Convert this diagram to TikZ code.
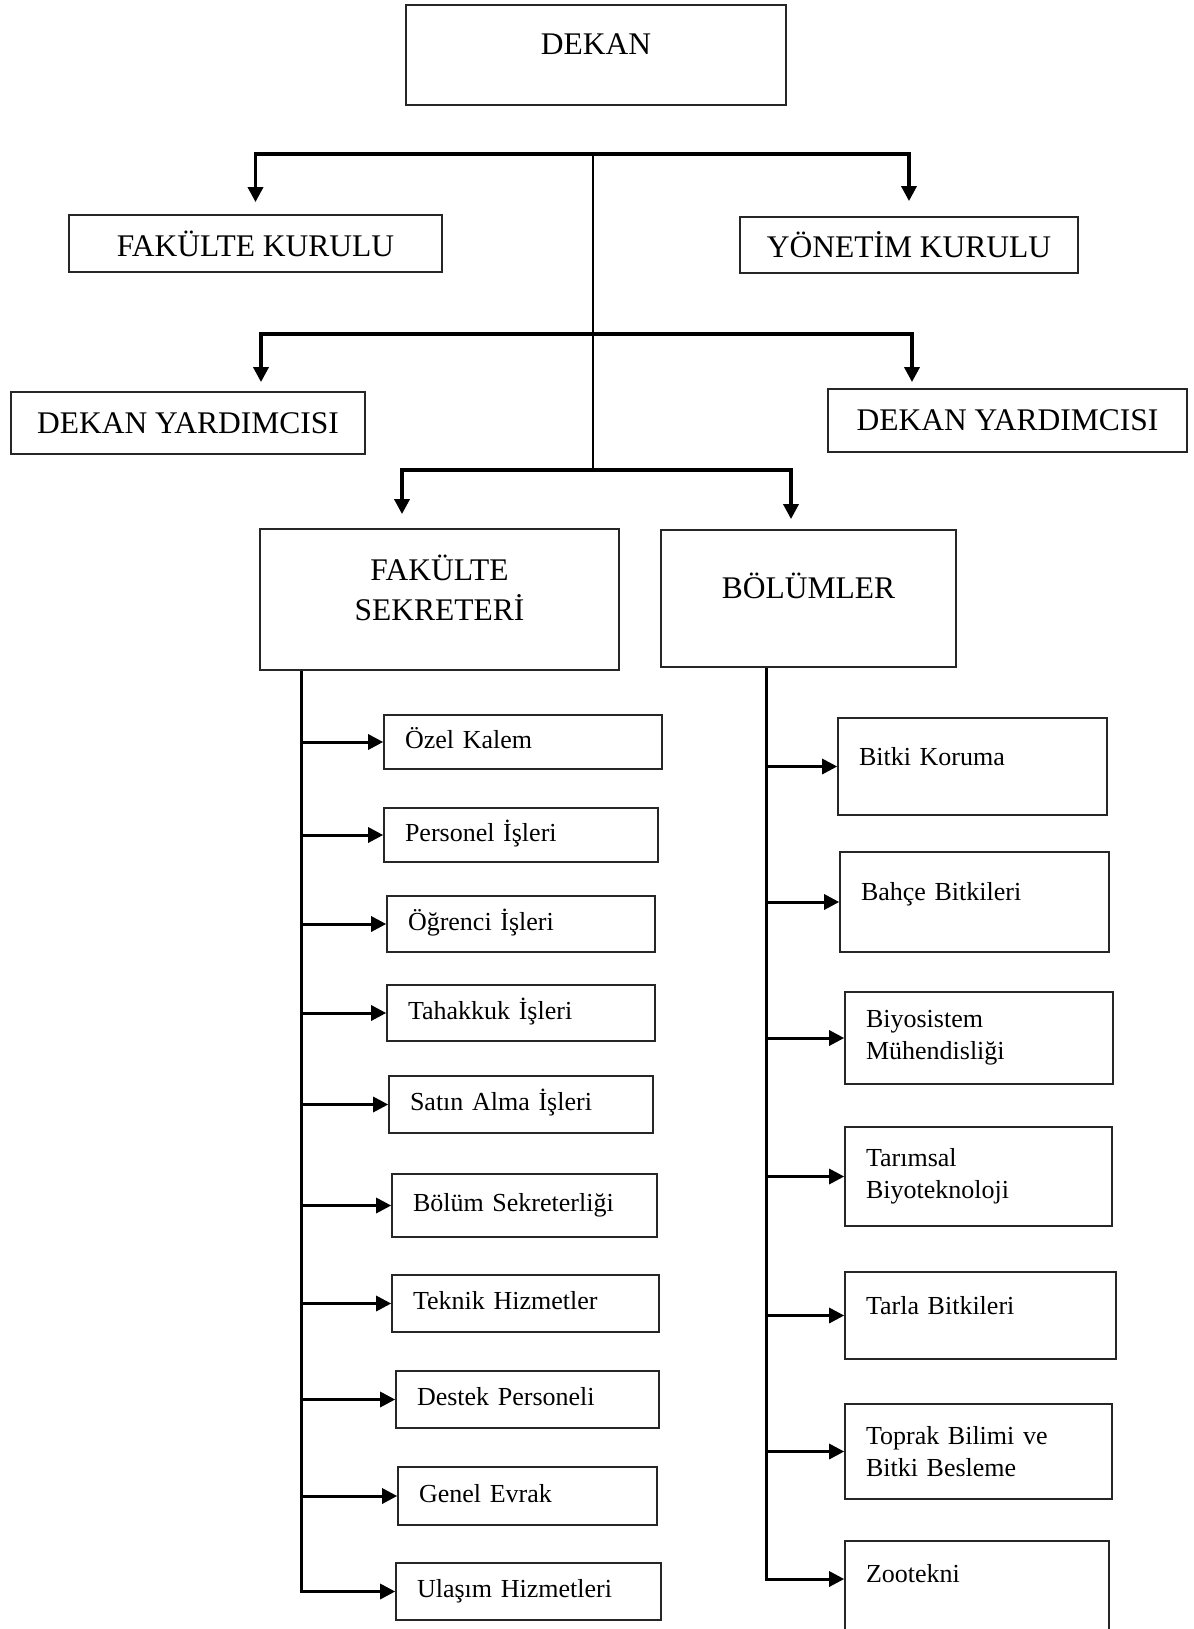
\documentclass[tikz,border=0pt]{standalone}
\usepackage{fontspec}
\setmainfont{Liberation Serif}
\usetikzlibrary{arrows.meta}

\begin{document}
\begin{tikzpicture}[x=1pt, y=-1pt,
    >={Triangle[length=15pt,width=15pt]},
    topbox/.style={draw=black!85, line width=1.8pt, inner sep=0pt, align=center, font=\fontsize{31.5}{40}\selectfont},
    unitbox/.style={draw=black!85, line width=1.6pt, inner xsep=21pt, inner ysep=0pt, align=left, font=\fontsize{26}{32}\selectfont},
    sekbox/.style={unitbox, text height=17pt, text depth=5pt},
    bolbox/.style={unitbox, text height=18pt, text depth=21pt},
    bar/.style={draw=black, line width=3.5pt},
    trunk/.style={draw=black, line width=1.6pt},
    link/.style={draw=black, line width=3pt}]
    \useasboundingbox (0,0) rectangle (1193,1629);
    \node[topbox, minimum width=380pt, minimum height=100pt, text height=22pt, text depth=22pt] (dekan) at (596,55) {DEKAN};
    \node[topbox, minimum width=373pt, minimum height=57pt] (fakkurul) at (255.5,243.5) {FAKÜLTE KURULU};
    \node[topbox, minimum width=338pt, minimum height=56pt] (yonkurul) at (909,245) {YÖNETİM KURULU};
    \node[topbox, minimum width=354pt, minimum height=62pt] (yard1) at (188,423) {DEKAN YARDIMCISI};
    \node[topbox, minimum width=359pt, minimum height=63pt] (yard2) at (1007.5,420.5) {DEKAN YARDIMCISI};
    \node[topbox, minimum width=359pt, minimum height=141pt, text height=67pt, text depth=26pt] (sekreter) at (439.5,599.5) {FAKÜLTE\\SEKRETERİ};
    \node[topbox, minimum width=295pt, minimum height=137pt, text height=22pt, text depth=22pt] (bolumler) at (808.5,598.5) {BÖLÜMLER};
    \node[sekbox, text width=236pt, minimum height=54pt] (ozel) at (523,742) {Özel Kalem};
    \node[sekbox, text width=232pt, minimum height=54pt] (personel) at (521,835) {Personel İşleri};
    \node[sekbox, text width=226pt, minimum height=56pt] (ogrenci) at (521,924) {Öğrenci İşleri};
    \node[sekbox, text width=226pt, minimum height=56pt] (tahakkuk) at (521,1013) {Tahakkuk İşleri};
    \node[sekbox, text width=222pt, minimum height=57pt] (satin) at (521,1104.5) {Satın Alma İşleri};
    \node[sekbox, text width=223pt, minimum height=63pt] (bolumsek) at (524.5,1205.5) {Bölüm Sekreterliği};
    \node[sekbox, text width=225pt, minimum height=57pt] (teknik) at (525.5,1303.5) {Teknik Hizmetler};
    \node[sekbox, text width=221pt, minimum height=57pt] (destek) at (527.5,1399.5) {Destek Personeli};
    \node[sekbox, text width=217pt, minimum height=58pt] (genel) at (527.5,1496) {Genel Evrak};
    \node[sekbox, text width=223pt, minimum height=57pt] (ulasim) at (528.5,1591.5) {Ulaşım Hizmetleri};
    \node[bolbox, text width=227pt, minimum height=97pt] (bitki) at (972.5,766.5) {Bitki Koruma};
    \node[bolbox, text width=227pt, minimum height=100pt] (bahce) at (974.5,902) {Bahçe Bitkileri};
    \node[unitbox, text width=226pt, minimum height=92pt] (biyosistem) at (979,1038) {Biyosistem\\Mühendisliği};
    \node[unitbox, text width=225pt, minimum height=99pt] (tarimsal) at (978.5,1176.5) {Tarımsal\\Biyoteknoloji};
    \node[bolbox, text width=229pt, minimum height=87pt] (tarla) at (980.5,1315.5) {Tarla Bitkileri};
    \node[unitbox, text width=225pt, minimum height=95pt] (toprak) at (978.5,1451.5) {Toprak Bilimi ve\\Bitki Besleme};
    \node[bolbox, text width=222pt, minimum height=100pt, text depth=36pt] (zootekni) at (977,1591) {Zootekni};
    \coordinate (t0) at (593,154);
    \coordinate (t3) at (593,470);
    \coordinate (k2l) at (261,334);
    \coordinate (k2r) at (912,334);
    \coordinate (k3l) at (402,470);
    \coordinate (k3r) at (791,470);
    \draw [bar, <->, shorten <=12pt, shorten >=15pt] (fakkurul.north) |- (t0) -| (yonkurul.north);
    \draw [trunk] (t0) -- (t3);
    \draw [bar, <->, shorten <=9pt, shorten >=6pt] (k2l |- yard1.north) -- (k2l) -- (k2r) -- (k2r |- yard2.north);
    \draw [bar, <->, shorten <=14pt, shorten >=10pt] (k3l |- sekreter.north) -- (k3l) -- (k3r) -- (k3r |- bolumler.north);
    \coordinate (s0) at ([xshift=42pt]sekreter.south west);
    \draw [link, ->] (s0) |- (ulasim.west);
    \draw [link, ->] (s0 |- ozel.west) -- (ozel.west);
    \draw [link, ->] (s0 |- personel.west) -- (personel.west);
    \draw [link, ->] (s0 |- ogrenci.west) -- (ogrenci.west);
    \draw [link, ->] (s0 |- tahakkuk.west) -- (tahakkuk.west);
    \draw [link, ->] (s0 |- satin.west) -- (satin.west);
    \draw [link, ->] (s0 |- bolumsek.west) -- (bolumsek.west);
    \draw [link, ->] (s0 |- teknik.west) -- (teknik.west);
    \draw [link, ->] (s0 |- destek.west) -- (destek.west);
    \draw [link, ->] (s0 |- genel.west) -- (genel.west);
    \coordinate (r0) at ([xshift=106pt]bolumler.south west);
    \draw [link, ->] (r0) |- ([yshift=12pt]zootekni.west);
    \draw [link, ->] (r0 |- bitki.west) -- (bitki.west);
    \draw [link, ->] (r0 |- bahce.west) -- (bahce.west);
    \draw [link, ->] (r0 |- biyosistem.west) -- (biyosistem.west);
    \draw [link, ->] (r0 |- tarimsal.west) -- (tarimsal.west);
    \draw [link, ->] (r0 |- tarla.west) -- (tarla.west);
    \draw [link, ->] (r0 |- toprak.west) -- (toprak.west);
\end{tikzpicture}
\end{document}
